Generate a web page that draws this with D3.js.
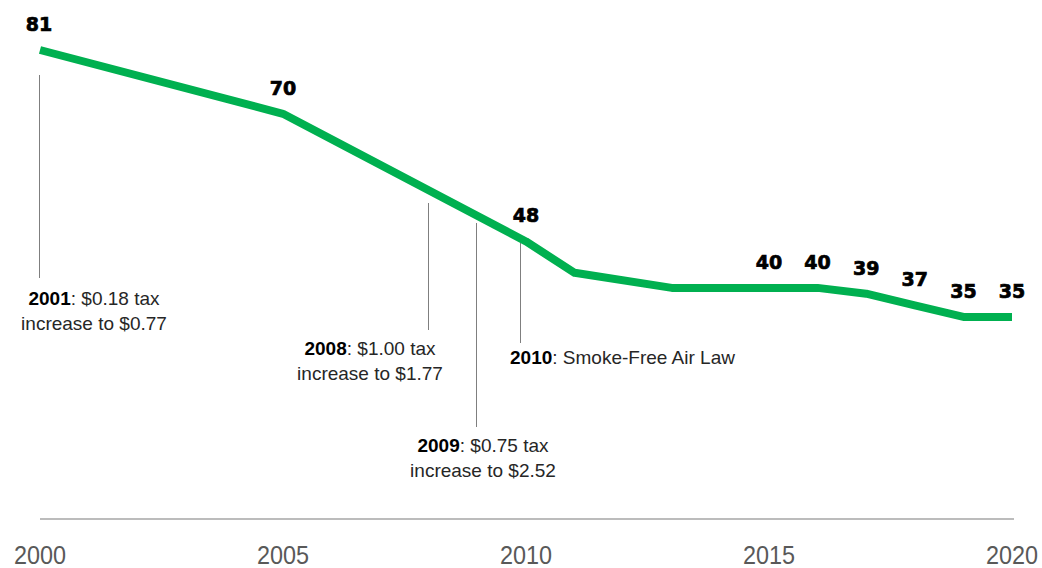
<!DOCTYPE html>
<html>
<head>
<meta charset="utf-8">
<script src="https://cdn.jsdelivr.net/npm/d3@7"></script>
<style>
  html, body { margin: 0; padding: 0; background: #fff; }
  svg { display: block; }
</style>
</head>
<body>
<svg id="chart" width="1042" height="568"></svg>
<script>
  // ── Data ────────────────────────────────────────────────────────────────────
  const years  = [2000, 2005, 2010, 2011, 2013, 2015, 2016, 2017, 2018, 2019, 2020];
  const values = [81,   70,   48,   42.6, 40,   40,   40,   39,   37,   35,   35];
  const labeledYears = [2000, 2005, 2010, 2015, 2016, 2017, 2018, 2019, 2020];
  const tickYears = [2000, 2005, 2010, 2015, 2020];

  // annotation text: [bold part, rest of first line, second line]
  const annoYears = [2000, 2008, 2009, 2009.9];
  const annoText = [
    ["2001", ": $0.18 tax", "increase to $0.77"],
    ["2008", ": $1.00 tax", "increase to $1.77"],
    ["2009", ": $0.75 tax", "increase to $2.52"],
    ["2010", ": Smoke-Free Air Law", null]
  ];

  // ── Layout ──────────────────────────────────────────────────────────────────
  const X0 = 40, X1 = 1012;
  const Y_ZERO = 520, Y_TOP = 50;
  const GREEN = "#00B050";
  const SANS = "'Liberation Sans', Arial, sans-serif";

  // leader line extents (px) and text placement per annotation
  const annoLayout = [
    { top: 75,  bottom: 278, tx: 94,  ty: 305, anchor: "middle" },
    { top: 203, bottom: 330, tx: 370, ty: 355, anchor: "middle" },
    { top: 223, bottom: 427, tx: 483, ty: 452, anchor: "middle" },
    { top: 243, bottom: 343, tx: 510, ty: 364, anchor: "start" }
  ];

  const svg = d3.select("#chart");

  const x = d3.scaleLinear().domain([2000, 2020]).range([X0, X1]);
  const y = d3.scaleLinear().domain([0, 81]).range([Y_ZERO, Y_TOP]);

  const pts = years.map((yr, i) => ({ yr, v: values[i] }));

  // ── Baseline axis ───────────────────────────────────────────────────────────
  svg.append("line")
    .attr("x1", X0).attr("x2", X1 + 2)
    .attr("y1", Y_ZERO - 1).attr("y2", Y_ZERO - 1)
    .attr("stroke", "#a6a6a6")
    .attr("stroke-width", 1.5);

  svg.append("g")
    .selectAll("text")
    .data(tickYears)
    .join("text")
    .attr("transform", d => `translate(${x(d)},564) scale(0.9,1)`)
    .attr("text-anchor", "middle")
    .attr("font-family", SANS)
    .attr("font-size", "26px")
    .attr("fill", "#595959")
    .text(d => d);

  // ── Annotation leader lines ────────────────────────────────────────────────
  svg.append("g")
    .selectAll("line")
    .data(annoYears)
    .join("line")
    .attr("x1", d => Math.round(x(d)) - 0.5)
    .attr("x2", d => Math.round(x(d)) - 0.5)
    .attr("y1", (d, i) => annoLayout[i].top)
    .attr("y2", (d, i) => annoLayout[i].bottom)
    .attr("stroke", "#7f7f7f")
    .attr("stroke-width", 1);

  // ── Main line ───────────────────────────────────────────────────────────────
  const line = d3.line()
    .x(d => x(d.yr))
    .y(d => y(d.v));

  svg.append("path")
    .datum(pts)
    .attr("d", line)
    .attr("fill", "none")
    .attr("stroke", GREEN)
    .attr("stroke-width", 8)
    .attr("stroke-linejoin", "round");

  // ── Value labels ────────────────────────────────────────────────────────────
  svg.append("g")
    .selectAll("text")
    .data(pts.filter(p => labeledYears.includes(p.yr)))
    .join("text")
    .attr("x", d => x(d.yr) + (d.yr === 2000 ? -1 : 0))
    .attr("y", d => y(d.v) - 19)
    .attr("text-anchor", "middle")
    .attr("font-family", "'DejaVu Sans', sans-serif")
    .attr("font-weight", "bold")
    .attr("font-size", "19px")
    .attr("fill", "#000")
    .attr("stroke", "#000")
    .attr("stroke-width", 0.7)
    .text(d => d3.format("d")(d.v));

  // ── Annotation text ────────────────────────────────────────────────────────
  annoText.forEach((t, i) => {
    const L = annoLayout[i];
    const txt = svg.append("text")
      .attr("x", L.tx)
      .attr("y", L.ty)
      .attr("text-anchor", L.anchor)
      .attr("font-family", SANS)
      .attr("font-size", "19px")
      .attr("fill", "#262626");
    txt.append("tspan").attr("font-weight", "bold").attr("fill", "#000").text(t[0]);
    txt.append("tspan").text(t[1]);
    if (t[2]) {
      svg.append("text")
        .attr("x", L.tx)
        .attr("y", L.ty + 25)
        .attr("text-anchor", L.anchor)
        .attr("font-family", SANS)
        .attr("font-size", "19px")
        .attr("fill", "#262626")
        .text(t[2]);
    }
  });
</script>
</body>
</html>
